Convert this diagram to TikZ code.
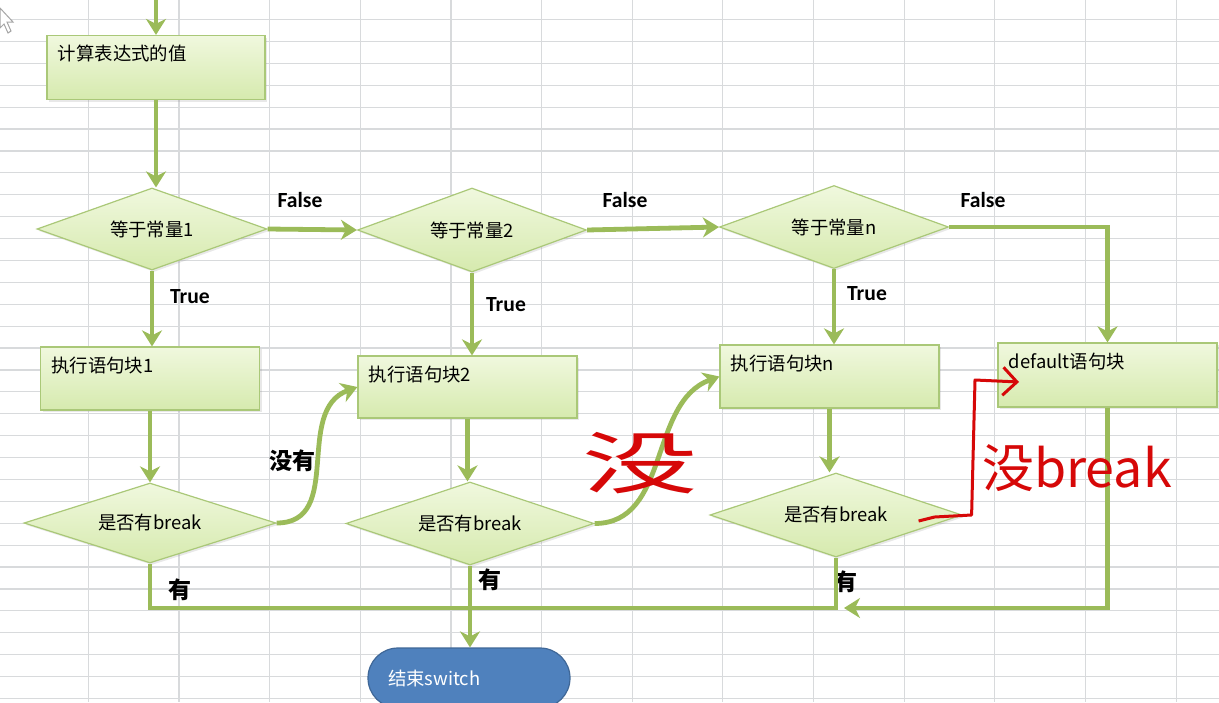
\documentclass[tikz,border=0pt]{standalone}
\usepackage{fontspec}
\usepackage{graphicx}
\setmainfont{Carlito}
\newfontfamily\cjk{Noto Sans CJK SC}
\usetikzlibrary{positioning,shapes.geometric,arrows.meta,shadows}
\definecolor{gridgray}{RGB}{216,218,220}
\definecolor{flowgreen}{RGB}{155,187,89}
\definecolor{edgegreen}{RGB}{170,200,120}
\definecolor{fillhi}{RGB}{240,248,222}
\definecolor{filllo}{RGB}{214,234,174}
\definecolor{endblue}{RGB}{79,129,189}
\definecolor{penred}{RGB}{214,8,8}

\begin{document}
\begin{tikzpicture}[x=0.5pt,y=-0.5pt,%
	>={Stealth[length=8pt,width=10pt,inset=2.5pt]},%
	grid/.style={draw=gridgray,line width=0.6pt},%
	flow/.style={draw=flowgreen,line width=2.4pt},%
	shape base/.style={draw=edgegreen,line width=0.6pt,%
		top color=fillhi,bottom color=filllo,inner sep=0pt,%
		drop shadow={opacity=0.18,shadow xshift=1pt,shadow yshift=-1pt}},%
	box/.style={shape base,rectangle,minimum width=109.5pt,minimum height=32pt},%
	cond/.style={shape base,diamond,aspect=2.8,font=\cjk\fontsize{9.2}{10}\selectfont},%
	boxtxt/.style={anchor=west,inner sep=0pt,xshift=5.5pt,yshift=-9.5pt,%
		font=\cjk\fontsize{9.2}{10}\selectfont},%
	tf/.style={font=\bfseries\fontsize{10.8}{12}\selectfont,inner sep=0pt},%
	yes/.style={font=\cjk\bfseries\fontsize{11.5}{12}\selectfont,inner sep=0pt},%
	term/.style={rectangle,rounded corners=15pt,draw=endblue!80!black,line width=0.6pt,%
		fill=endblue,minimum width=101pt,minimum height=30pt,inner xsep=10pt,%
		text width=81pt,align=left,text=white,font=\cjk\fontsize{9.2}{10}\selectfont},%
	scribble/.style={text=penred,inner sep=0pt},%
	pen/.style={draw=penred,line width=1.5pt,line join=round}]

	% sheet
	\useasboundingbox (0,0) rectangle (1219,702);
	\fill[white] (0,0) rectangle (1219,702);
	\foreach \k in {-1,...,12}
		\draw[grid] ({88.3+90.65*\k},0) -- ++(0,702);
	\foreach \k in {-1,...,31}
		\draw[grid] (0,{19.5+21.9*\k}) -- ++(1219,0);
	\filldraw[draw=gray!70,fill=white,line width=0.5pt]
		(0,8) -- (13,22) -- (7,22) -- (11,31) -- (8,33) -- (4,24) -- (0,28) -- cycle;

	% nodes
	\node[box,minimum width=109pt] (calc) at (156,67.5)
		{}; \node[boxtxt] (calctxt) at (calc.north west) {计算表达式的值};
	\node[cond,minimum width=115pt,minimum height=41pt] (eq1) at (152,229) {等于常量1};
	\node[cond,minimum width=114.5pt,minimum height=42pt] (eq2) at (472,230) {等于常量2};
	\node[cond,minimum width=114.5pt,minimum height=41.5pt] (eqn) at (834,227) {等于常量n};

	\node[box,minimum height=31.5pt] (run1) at (150,378.5) {};
	\node[boxtxt] (run1txt) at (run1.north west) {执行语句块1};
	\node[box,minimum height=31pt] (run2) at (467.5,387) {};
	\node[boxtxt] (run2txt) at (run2.north west) {执行语句块2};
	\node[box,minimum height=31.5pt] (runn) at (829.5,376.5) {};
	\node[boxtxt] (runntxt) at (runn.north west) {执行语句块n};
	\node[box] (dflt) at (1107.5,375) {};
	\node[boxtxt] (dflttxt) at (dflt.north west) {default语句块};

	\node[cond,minimum width=126pt,minimum height=40pt] (brk1) at (150,523) {是否有break};
	\node[cond,minimum width=124pt,minimum height=41.5pt] (brk2) at (470,523.5) {是否有break};
	\node[cond,minimum width=126pt,minimum height=42pt] (brkn) at (836,515) {是否有break};

	\node[term] (endsw) at (469,678) {结束switch};

	% labels
	\node[tf] (f1) at (300,200) {False};
	\node[tf] (f2) at (625,200) {False};
	\node[tf] (f3) at (983,200) {False};
	\node[tf] (t1) at (190,297) {True};
	\node[tf] (t2) at (506,305) {True};
	\node[tf] (t3) at (867,294) {True};
	\node[yes] (no1) at (292,461) {没有};
	\node[yes] (y1) at (180,590) {有};
	\node[yes] (y2) at (490,580) {有};
	\node[yes] (y3) at (846,582) {有};

	% connectors
	\coordinate (start) at (156,0);
	\coordinate (join) at (470,608);
	\draw[flow,->] (start) -- (calc.north);
	\draw[flow,->] (calc.south) -- (calc.south |- eq1.north);
	\draw[flow,->] (eq1.east) -- (eq2.west);
	\draw[flow,->] (eq2.east) -- (eqn.west);
	\draw[flow,->] (eqn.east) -| (dflt.north);
	\draw[flow,->] (eq1.south) -- (eq1.south |- run1.north);
	\draw[flow,->] (eq2.south) -- (eq2.south |- run2.north);
	\draw[flow,->] (eqn.south) -- (eqn.south |- runn.north);
	\draw[flow,->] (run1.south) -- (brk1.north);
	\draw[flow,->] (run2.south) -- (run2.south |- brk2.north);
	\draw[flow,->] (runn.south) -- (runn.south |- brkn.north);
	\draw[flow,->] (brk1.east) to[out=0,in=200,looseness=1.1] (run2.west);
	\draw[flow,->] (brk2.east) to[out=0,in=200] (runn.west);
	\draw[flow] (brk1.south) |- (join);
	\draw[flow] (brkn.south) |- (join);
	\draw[flow,->] (brk2.south) -- (brk2.south |- endsw.north);
	\draw[flow,->] (dflt.south) |- ([xshift=4pt]brkn.south |- join);

	% red pen notes
	\node[scribble,font=\cjk\fontsize{34}{34}\selectfont] (mei) at (640,463) {\scalebox{1.7}[1]{没}};
	\node[scribble,font=\cjk\fontsize{26}{26}\selectfont] (meibreak) at (1077,468) {没break};
	\coordinate (pentip) at (1019,382);
	\draw[pen,-{Straight Barb[length=7pt,width=14pt]}]
		([xshift=-22pt,yshift=-3pt]brkn.east) -- ++(16,-4) -- ++(37,-2)
		-- (975,380) -- (pentip);
\end{tikzpicture}
\end{document}
